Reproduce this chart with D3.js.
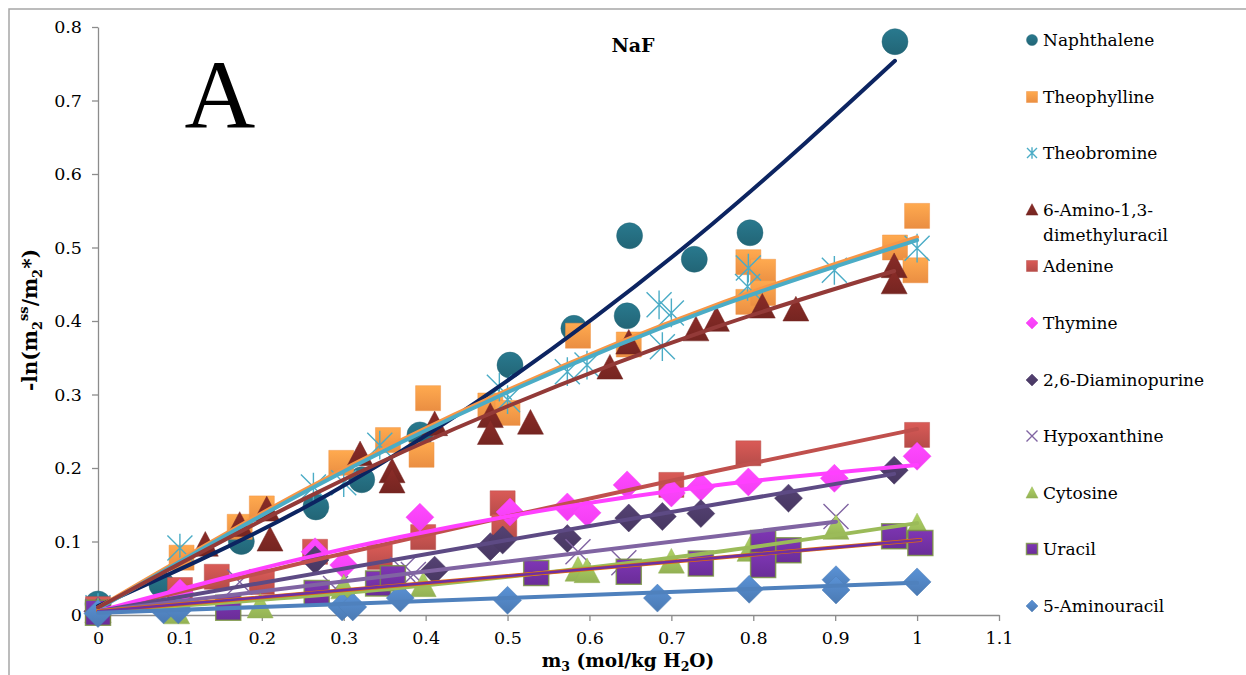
<!DOCTYPE html>
<html><head><meta charset="utf-8">
<script src="https://cdn.jsdelivr.net/npm/d3@7"></script>
<style>body{margin:0;background:#fff}svg{display:block}</style>
</head><body>
<svg id="c" width="1246" height="675"></svg>
<script>
// ---------- data ----------
const seriesNames = ["Naphthalene","Theophylline","Theobromine","6-Amino-1,3-dimethyluracil","Adenine","Thymine","2,6-Diaminopurine","Hypoxanthine","Cytosine","Uracil","5-Aminouracil"];
const xTickValues = [0,0.1,0.2,0.3,0.4,0.5,0.6,0.7,0.8,0.9,1,1.1];
const yTickValues = [0,0.1,0.2,0.3,0.4,0.5,0.6,0.7,0.8];

const naphthalene = [[0,0.015],[0.078,0.041],[0.175,0.10],[0.266,0.147],[0.322,0.184],[0.393,0.245],[0.503,0.34],[0.581,0.39],[0.646,0.407],[0.649,0.516],[0.728,0.484],[0.796,0.52],[0.973,0.78]];
const theophylline = [[0,0.005],[0.102,0.078],[0.173,0.12],[0.2,0.145],[0.297,0.207],[0.354,0.238],[0.395,0.218],[0.403,0.295],[0.479,0.285],[0.5,0.275],[0.586,0.38],[0.648,0.368],[0.794,0.48],[0.794,0.426],[0.812,0.467],[0.812,0.438],[0.973,0.50],[1.0,0.543],[0.998,0.469]];
const theobromine = [[0,0.01],[0.1,0.091],[0.263,0.174],[0.3,0.18],[0.344,0.231],[0.49,0.31],[0.5,0.293],[0.573,0.331],[0.597,0.34],[0.685,0.422],[0.7,0.411],[0.689,0.365],[0.794,0.472],[0.793,0.447],[0.899,0.469],[1.0,0.499]];
const aminoDimethyluracil = [[0,0.005],[0.131,0.095],[0.173,0.122],[0.206,0.143],[0.21,0.102],[0.32,0.218],[0.359,0.195],[0.359,0.181],[0.411,0.259],[0.479,0.27],[0.479,0.247],[0.528,0.261],[0.625,0.336],[0.648,0.37],[0.73,0.388],[0.755,0.401],[0.811,0.419],[0.852,0.415],[0.972,0.474],[0.972,0.452]];
const adenine = [[0,0.008],[0.1,0.034],[0.145,0.052],[0.2,0.045],[0.265,0.086],[0.344,0.079],[0.397,0.106],[0.494,0.152],[0.496,0.12],[0.7,0.177],[0.794,0.22],[1.0,0.245]];
const thymine = [[0,0.005],[0.1,0.03],[0.265,0.086],[0.3,0.068],[0.393,0.133],[0.503,0.14],[0.573,0.147],[0.597,0.139],[0.646,0.177],[0.7,0.166],[0.736,0.174],[0.794,0.181],[0.899,0.186],[1.0,0.216]];
const diaminopurine = [[0,0.005],[0.265,0.075],[0.411,0.061],[0.479,0.093],[0.494,0.102],[0.573,0.104],[0.648,0.132],[0.689,0.134],[0.736,0.138],[0.843,0.159],[0.972,0.197]];
const hypoxanthine = [[0,0.005],[0.173,0.045],[0.29,0.036],[0.372,0.062],[0.385,0.055],[0.586,0.086],[0.642,0.071],[0.901,0.134]];
const cytosine = [[0,0.005],[0.096,0.003],[0.198,0.011],[0.3,0.037],[0.397,0.04],[0.586,0.061],[0.597,0.059],[0.7,0.072],[0.796,0.088],[0.901,0.118],[1.0,0.12]];
const uracil = [[0,0.003],[0.159,0.01],[0.267,0.03],[0.342,0.043],[0.36,0.05],[0.535,0.057],[0.648,0.059],[0.736,0.07],[0.812,0.098],[0.812,0.068],[0.843,0.088],[0.972,0.107],[1.004,0.098]];
const aminouracil = [[0,0.002],[0.08,0.007],[0.098,0.007],[0.298,0.011],[0.311,0.011],[0.369,0.023],[0.5,0.02],[0.683,0.023],[0.795,0.035],[0.901,0.048],[0.901,0.034],[1.0,0.045]];

// trend lines
const trendNaphthalene = [[0,0.012],[0.25,0.145],[0.5,0.319],[0.75,0.532],[0.973,0.754]];
const trendTheophylline = [[0,0.01],[0.25,0.169],[0.5,0.306],[0.75,0.42],[1.0,0.514]];
const trendTheobromine = [[0,0.008],[0.25,0.166],[0.5,0.303],[0.75,0.417],[1.0,0.51]];
const trendAmino = [[0,0.01],[0.25,0.157],[0.5,0.284],[0.75,0.39],[0.972,0.468]];
const trendAdenine = [[0,0.005],[0.25,0.071],[0.5,0.134],[0.75,0.195],[1.0,0.253]];
const trendThymine = [[0,0.005],[0.25,0.077],[0.5,0.134],[0.75,0.176],[1.0,0.204]];
const trendDiaminopurine = [[0,0.005],[0.5,0.102],[0.972,0.192]];
const trendHypoxanthine = [[0,0.005],[0.45,0.066],[0.901,0.127]];
const trendCytosine = [[0,0.005],[0.25,0.025],[0.5,0.052],[0.75,0.085],[1.0,0.125]];
const trendUracil = [[0,0.005],[0.5,0.053],[1.004,0.102]];
const trendAminouracil = [[0,0.003],[0.5,0.023],[1.0,0.044]];

// ---------- styling ----------
const series = [
  {name:seriesNames[0], pts:naphthalene, trend:trendNaphthalene, shape:"circle", fill:"#246b7d", line:"#0c2461"},
  {name:seriesNames[1], pts:theophylline, trend:trendTheophylline, shape:"square", fill:"#f79646", line:"#f79646"},
  {name:seriesNames[2], pts:theobromine, trend:trendTheobromine, shape:"asterisk", fill:"#4bacc6", line:"#4bacc6"},
  {name:seriesNames[3], pts:aminoDimethyluracil, trend:trendAmino, shape:"triangle", fill:"#7b2723", line:"#933a38"},
  {name:seriesNames[4], pts:adenine, trend:trendAdenine, shape:"square", fill:"#c0504d", line:"#c0504d"},
  {name:seriesNames[5], pts:thymine, trend:trendThymine, shape:"diamond", fill:"#ff40ff", line:"#ff40ff"},
  {name:seriesNames[6], pts:diaminopurine, trend:trendDiaminopurine, shape:"diamond", fill:"#4b3a66", line:"#5d4a84"},
  {name:seriesNames[7], pts:hypoxanthine, trend:trendHypoxanthine, shape:"x", fill:"#8064a2", line:"#8064a2"},
  {name:seriesNames[8], pts:cytosine, trend:trendCytosine, shape:"triangle", fill:"#9bbb59", line:"#9bbb59"},
  {name:seriesNames[9], pts:uracil, trend:trendUracil, shape:"square", fill:"#7030a0", stroke:"#77933c", line:"#7030a0", edge:"#e46c0a"},
  {name:seriesNames[10], pts:aminouracil, trend:trendAminouracil, shape:"diamond", fill:"#4f81bd", line:"#4f81bd"}
];

const svg = d3.select("#c");
const defs = svg.append("defs");
const FONT = "'DejaVu Serif', serif";

const x = d3.scaleLinear().domain([0,1.1]).range([98,999]);
const y = d3.scaleLinear().domain([0,0.8]).range([615,27]);

// frame
svg.append("rect").attr("x",9).attr("y",9).attr("width",1400).attr("height",800)
  .attr("fill","none").attr("stroke","#a6a6a6").attr("stroke-width",1.5);

// gradients
series.forEach((s,i)=>{
  const g = defs.append("linearGradient").attr("id","g"+i).attr("x1",0).attr("y1",0).attr("x2",0).attr("y2",1);
  g.append("stop").attr("offset","0%").attr("stop-color", d3.color(s.fill).brighter(0.35).formatHex());
  g.append("stop").attr("offset","100%").attr("stop-color", d3.color(s.fill).darker(0.15).formatHex());
});

function shapePath(shape, r){
  switch(shape){
    case "circle": return `M${-r},0A${r},${r} 0 1,0 ${r},0A${r},${r} 0 1,0 ${-r},0Z`;
    case "square": return `M${-r},${-r}H${r}V${r}H${-r}Z`;
    case "diamond": return `M0,${-r}L${r},0L0,${r}L${-r},0Z`;
    case "triangle": return `M0,${-r*1.05}L${r},${r*0.85}L${-r},${r*0.85}Z`;
    case "asterisk": return `M${-r},${-r}L${r},${r}M${-r},${r}L${r},${-r}M0,${-r*1.15}V${r*1.15}`;
    case "x": return `M${-r},${-r}L${r},${r}M${-r},${r}L${r},${-r}`;
  }
}
const markerR = {circle:13, square:12.5, diamond:14, triangle:13, asterisk:12.5, x:12.5};
const legendR = {circle:5.5, square:5.5, diamond:6, triangle:6, asterisk:5, x:5.5};

function drawMarker(sel, s, i, r){
  const stroked = (s.shape==="asterisk"||s.shape==="x");
  sel.attr("d", shapePath(s.shape, r))
    .attr("fill", stroked ? "none" : `url(#g${i})`)
    .attr("stroke", stroked ? s.fill : (s.stroke || d3.color(s.fill).darker(0.1).formatHex()))
    .attr("stroke-width", stroked ? 1.4 : (s.stroke ? 1.5 : 0.6))
    .attr("stroke-opacity", stroked ? 1 : 0.8);
}

// axes
const xAxis = d3.axisBottom(x).tickValues(xTickValues).tickFormat(d=>d3.format("~g")(d)).tickSize(6).tickSizeOuter(0).tickPadding(11);
const yAxis = d3.axisLeft(y).tickValues(yTickValues).tickFormat(d=>d3.format("~g")(d)).tickSize(6).tickSizeOuter(0).tickPadding(10);
const gx = svg.append("g").attr("transform","translate(0,615)").call(xAxis);
const gy = svg.append("g").attr("transform","translate(98,0)").call(yAxis);
[gx,gy].forEach(g=>{
  g.selectAll("path,line").attr("stroke","#8c8c8c").attr("stroke-width",1.3);
  g.selectAll("text").attr("font-family",FONT).attr("font-size",17.5).attr("fill","#000");
});

// markers
const plot = svg.append("g");
series.forEach((s,i)=>{
  plot.append("g").selectAll("path").data(s.pts).join("path")
    .attr("transform",d=>`translate(${x(d[0])},${y(d[1])})`)
    .each(function(){ drawMarker(d3.select(this), s, i, markerR[s.shape]); });
});

// trend lines
const line = d3.line().x(d=>x(d[0])).y(d=>y(d[1])).curve(d3.curveNatural);
series.forEach(s=>{
  if(s.edge){
    plot.append("path").attr("d",line(s.trend)).attr("fill","none").attr("stroke",s.edge).attr("stroke-width",4).attr("stroke-linecap","round");
    plot.append("path").attr("d",line(s.trend)).attr("fill","none").attr("stroke",s.line).attr("stroke-width",2.6).attr("stroke-linecap","round");
  } else {
    plot.append("path").attr("d",line(s.trend)).attr("fill","none").attr("stroke",s.line).attr("stroke-width",4).attr("stroke-linecap","round");
  }
});

// legend
const legendY = [40,97,153,210,266,323,380,436,493,549,606];
const lg = svg.append("g");
series.forEach((s,i)=>{
  const row = lg.append("g").attr("transform",`translate(1032,${legendY[i]})`);
  row.append("path").each(function(){ drawMarker(d3.select(this), s, i, legendR[s.shape]); });
  const t = row.append("text").attr("x",11).attr("y",6).attr("font-family",FONT).attr("font-size",17).attr("fill","#000");
  if(s.name==="6-Amino-1,3-dimethyluracil"){
    t.append("tspan").attr("x",11).text("6-Amino-1,3-");
    t.append("tspan").attr("x",11).attr("dy",25).text("dimethyluracil");
  } else t.text(s.name);
});

// titles
svg.append("text").attr("x",633).attr("y",52).attr("text-anchor","middle")
  .attr("font-family",FONT).attr("font-weight","bold").attr("font-size",19).text("NaF");
svg.append("text").attr("x",220).attr("y",127).attr("text-anchor","middle")
  .attr("font-family","'Liberation Serif', serif").attr("font-size",98).text("A");

// x axis title
const xt = svg.append("text").attr("x",628).attr("y",667).attr("text-anchor","middle")
  .attr("font-family",FONT).attr("font-weight","bold").attr("font-size",18.5);
xt.append("tspan").text("m");
xt.append("tspan").attr("font-size",12.5).attr("dy",4).text("3");
xt.append("tspan").attr("dy",-4).text(" (mol/kg H");
xt.append("tspan").attr("font-size",12.5).attr("dy",4).text("2");
xt.append("tspan").attr("dy",-4).text("O)");

// y axis title
const yt = svg.append("text").attr("transform","translate(37,320) rotate(-90)").attr("text-anchor","middle")
  .attr("font-family",FONT).attr("font-weight","bold").attr("font-size",20);
yt.append("tspan").text("-ln(m");
yt.append("tspan").attr("font-size",13).attr("dy",5).text("2");
yt.append("tspan").attr("font-size",13).attr("dy",-14).text("ss");
yt.append("tspan").attr("dy",9).text("/m");
yt.append("tspan").attr("font-size",13).attr("dy",5).text("2");
yt.append("tspan").attr("dy",-5).text("*)");
</script>
</body></html>
